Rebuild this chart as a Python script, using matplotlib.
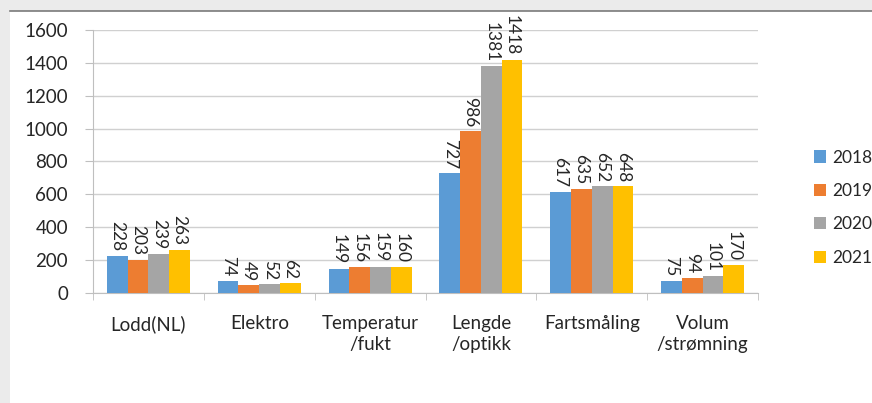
import numpy as np
import matplotlib.pyplot as plt
from matplotlib.patches import Rectangle, Patch

categories = ['Lodd(NL)', 'Elektro', 'Temperatur\n/fukt', 'Lengde\n/optikk',
              'Fartsmåling', 'Volum\n/strømning']
years = ['2018', '2019', '2020', '2021']
v2018 = [228, 74, 149, 727, 617, 75]
v2019 = [203, 49, 156, 986, 635, 94]
v2020 = [239, 52, 159, 1381, 652, 101]
v2021 = [263, 62, 160, 1418, 648, 170]
colors = ['#5B9BD5', '#ED7D31', '#A5A5A5', '#FFC000']

plt.rcParams['font.family'] = ['Lato', 'DejaVu Sans']

fig = plt.figure(figsize=(8.72, 4.03), dpi=100)
fig.patch.set_facecolor('#ebebeb')
# white chart panel with dark top border
panel = Rectangle((10 / 872, 0), 1, 1 - 11 / 403, transform=fig.transFigure,
                  facecolor='white', edgecolor='none', zorder=-10)
fig.add_artist(panel)
fig.add_artist(plt.Line2D([10 / 872, 1], [1 - 11 / 403, 1 - 11 / 403],
                          transform=fig.transFigure, color='#7a7a7a', lw=1.2,
                          zorder=-9))

ax = fig.add_axes([93 / 872, 1 - 293 / 403, 665 / 872, 263 / 403])
ax.set_facecolor('none')
ax.set_zorder(1)

x = np.arange(len(categories))
w = 0.1875
series = [v2018, v2019, v2020, v2021]
for i, (vals, c) in enumerate(zip(series, colors)):
    pos = x + (i - 1.5) * w
    ax.bar(pos, vals, width=w, color=c, zorder=3)
    for p, v in zip(pos, vals):
        ax.annotate(str(v), (p, v), xytext=(0, 3), textcoords='offset points',
                    rotation=270, ha='center', va='bottom', fontsize=12.5,
                    color='#262626')

ax.set_xlim(-0.5, len(categories) - 0.5)
ax.set_ylim(0, 1600)
ax.set_yticks(range(0, 1601, 200))
ax.grid(axis='y', color='#d0d0d0', lw=1, zorder=0)
ax.set_xticks(x)
ax.set_xticklabels(categories, fontsize=13.5, color='#262626', linespacing=1.3)
ax.set_xticks(np.arange(-0.5, len(categories), 1), minor=True)
ax.tick_params(axis='x', which='major', length=0, pad=16)
ax.tick_params(axis='x', which='minor', length=5, color='#bfbfbf', direction='out')
ax.tick_params(axis='y', length=6, color='#bfbfbf', pad=12, labelsize=13.5,
               labelcolor='#262626')
for s in ['top', 'right']:
    ax.spines[s].set_visible(False)
ax.spines['left'].set_color('#bfbfbf')
ax.spines['bottom'].set_color('#bfbfbf')

handles = [Patch(facecolor=c, label=y) for c, y in zip(colors, years)]
fig.legend(handles=handles, loc='upper left', bbox_to_anchor=(798 / 872, 1 - 134 / 403),
           frameon=False, fontsize=12.5, handlelength=0.7, handleheight=0.7,
           handletextpad=0.35, labelspacing=1.0, labelcolor='#262626')

fig.savefig('out.png', dpi=100, facecolor=fig.get_facecolor())
